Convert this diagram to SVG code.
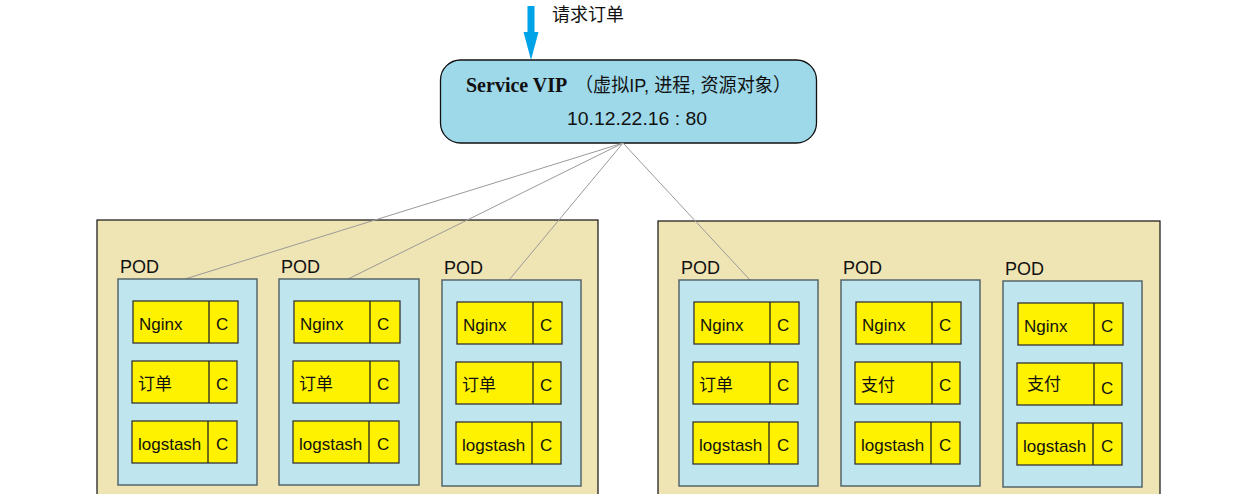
<svg xmlns="http://www.w3.org/2000/svg" width="1259" height="494" viewBox="0 0 1259 494">
<style>
.group{fill:#efe4b3;stroke:#111;stroke-width:1.2}
.pod{fill:#bfe6ef;stroke:#56666c;stroke-width:1.5}
.ctr{fill:#fff200;stroke:#333;stroke-width:1.3}
.div{stroke:#222;stroke-width:1.3}
.t{font-family:"Liberation Sans","Noto Sans CJK SC",sans-serif;fill:#111}
.lbl{font-size:17px}
.podl{font-size:18px}
.conn{stroke:#9a9a9a;stroke-width:1;fill:none}
</style>
<rect width="1259" height="494" fill="#fff"/>
<g id="group-left"><rect class="group" x="97" y="220" width="501" height="290"/></g>
<g id="group-right"><rect class="group" x="658" y="221" width="502" height="290"/></g>

<g id="request">
<rect x="527.5" y="6" width="7" height="27" fill="#00a2e8"/>
<polygon points="523.5,32 538.5,32 531,60" fill="#00a2e8"/>
<text class="t" x="552" y="21" font-size="18">请求订单</text>
</g>

<g id="service">
<rect x="440.5" y="60" width="376" height="83" rx="20" ry="20" fill="#9ed9ea" stroke="#111" stroke-width="1.3"/>
<text x="466" y="92" font-family="Liberation Serif,serif" font-weight="bold" font-size="20" fill="#111">Service VIP</text>
<text class="t" x="575" y="92" font-size="19" textLength="216" lengthAdjust="spacingAndGlyphs">（虚拟IP, 进程, 资源对象）</text>
<text class="t" x="567" y="125" font-size="19" textLength="140" lengthAdjust="spacingAndGlyphs">10.12.22.16 : 80</text>
</g>

<g id="connectors">
<line class="conn" x1="623" y1="143" x2="185" y2="279"/>
<line class="conn" x1="623" y1="143" x2="348" y2="279"/>
<line class="conn" x1="623" y1="143" x2="509" y2="280"/>
<line class="conn" x1="623" y1="143" x2="750" y2="280"/>
</g>

<g id="pod1" transform="translate(118,279)">
<text class="t podl" x="2" y="-6">POD</text>
<rect class="pod" x="0" y="0" width="139" height="206"/>
<rect class="ctr" x="15" y="22" width="105" height="42"/><line class="div" x1="91" y1="22" x2="91" y2="64"/>
<text class="t lbl" x="21" y="51">Nginx</text><text class="t lbl" x="98" y="51">C</text>
<rect class="ctr" x="14" y="82" width="105" height="42"/><line class="div" x1="91" y1="82" x2="91" y2="124"/>
<text class="t lbl" x="20" y="111">订单</text><text class="t lbl" x="98" y="111">C</text>
<rect class="ctr" x="14" y="142" width="105" height="42"/><line class="div" x1="90" y1="142" x2="90" y2="184"/>
<text class="t lbl" x="20" y="171">logstash</text><text class="t lbl" x="98" y="171">C</text>
</g>

<g id="pod2" transform="translate(279,279)">
<text class="t podl" x="2" y="-6">POD</text>
<rect class="pod" x="0" y="0" width="140" height="206"/>
<rect class="ctr" x="15" y="22" width="106" height="42"/><line class="div" x1="91" y1="22" x2="91" y2="64"/>
<text class="t lbl" x="21" y="51">Nginx</text><text class="t lbl" x="98" y="51">C</text>
<rect class="ctr" x="14" y="82" width="106" height="42"/><line class="div" x1="91" y1="82" x2="91" y2="124"/>
<text class="t lbl" x="20" y="111">订单</text><text class="t lbl" x="98" y="111">C</text>
<rect class="ctr" x="14" y="142" width="106" height="42"/><line class="div" x1="90" y1="142" x2="90" y2="184"/>
<text class="t lbl" x="20" y="171">logstash</text><text class="t lbl" x="98" y="171">C</text>
</g>

<g id="pod3" transform="translate(442,280)">
<text class="t podl" x="2" y="-6">POD</text>
<rect class="pod" x="0" y="0" width="139" height="206"/>
<rect class="ctr" x="15" y="22" width="105" height="42"/><line class="div" x1="91" y1="22" x2="91" y2="64"/>
<text class="t lbl" x="21" y="51">Nginx</text><text class="t lbl" x="98" y="51">C</text>
<rect class="ctr" x="14" y="82" width="105" height="42"/><line class="div" x1="91" y1="82" x2="91" y2="124"/>
<text class="t lbl" x="20" y="111">订单</text><text class="t lbl" x="98" y="111">C</text>
<rect class="ctr" x="14" y="142" width="105" height="42"/><line class="div" x1="90" y1="142" x2="90" y2="184"/>
<text class="t lbl" x="20" y="171">logstash</text><text class="t lbl" x="98" y="171">C</text>
</g>

<g id="pod4" transform="translate(679,280)">
<text class="t podl" x="2" y="-6">POD</text>
<rect class="pod" x="0" y="0" width="139" height="206"/>
<rect class="ctr" x="15" y="22" width="105" height="42"/><line class="div" x1="91" y1="22" x2="91" y2="64"/>
<text class="t lbl" x="21" y="51">Nginx</text><text class="t lbl" x="98" y="51">C</text>
<rect class="ctr" x="14" y="82" width="105" height="42"/><line class="div" x1="91" y1="82" x2="91" y2="124"/>
<text class="t lbl" x="20" y="111">订单</text><text class="t lbl" x="98" y="111">C</text>
<rect class="ctr" x="14" y="142" width="105" height="42"/><line class="div" x1="90" y1="142" x2="90" y2="184"/>
<text class="t lbl" x="20" y="171">logstash</text><text class="t lbl" x="98" y="171">C</text>
</g>

<g id="pod5" transform="translate(841,280)">
<text class="t podl" x="2" y="-6">POD</text>
<rect class="pod" x="0" y="0" width="139" height="206"/>
<rect class="ctr" x="15" y="22" width="105" height="42"/><line class="div" x1="91" y1="22" x2="91" y2="64"/>
<text class="t lbl" x="21" y="51">Nginx</text><text class="t lbl" x="98" y="51">C</text>
<rect class="ctr" x="14" y="82" width="105" height="42"/><line class="div" x1="91" y1="82" x2="91" y2="124"/>
<text class="t lbl" x="20" y="111">支付</text><text class="t lbl" x="98" y="111">C</text>
<rect class="ctr" x="14" y="142" width="105" height="42"/><line class="div" x1="90" y1="142" x2="90" y2="184"/>
<text class="t lbl" x="20" y="171">logstash</text><text class="t lbl" x="98" y="171">C</text>
</g>

<g id="pod6" transform="translate(1003,281)">
<text class="t podl" x="2" y="-6">POD</text>
<rect class="pod" x="0" y="0" width="139" height="206"/>
<rect class="ctr" x="15" y="22" width="105" height="42"/><line class="div" x1="91" y1="22" x2="91" y2="64"/>
<text class="t lbl" x="21" y="51">Nginx</text><text class="t lbl" x="98" y="51">C</text>
<rect class="ctr" x="14" y="82" width="105" height="42"/><line class="div" x1="91" y1="82" x2="91" y2="124"/>
<text class="t lbl" x="24" y="109">支付</text><text class="t lbl" x="98" y="113">C</text>
<rect class="ctr" x="14" y="142" width="105" height="42"/><line class="div" x1="90" y1="142" x2="90" y2="184"/>
<text class="t lbl" x="20" y="171">logstash</text><text class="t lbl" x="98" y="171">C</text>
</g>
</svg>
